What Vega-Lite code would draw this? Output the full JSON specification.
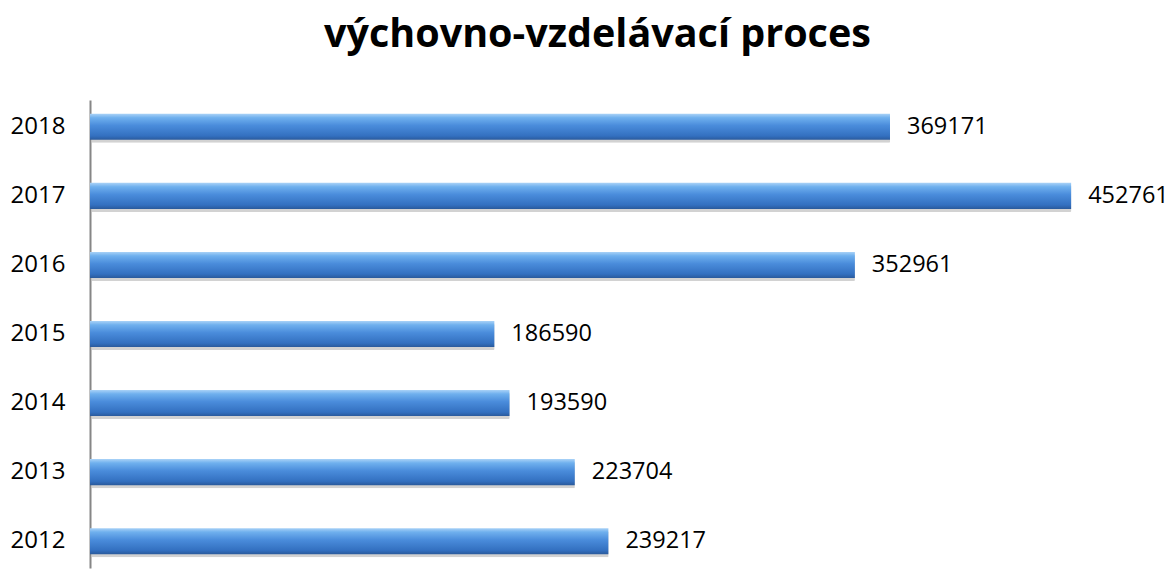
{
  "$schema": "https://vega.github.io/schema/vega-lite/v6.json",
  "width": 1078,
  "height": 468,
  "autosize": {"type": "none"},
  "padding": {"left": 90, "top": 100, "right": 0, "bottom": 2},
  "background": "white",
  "view": {"stroke": null},
  "title": {
    "text": "výchovno-vzdelávací proces",
    "font": "Open Sans",
    "fontSize": 39.5,
    "fontWeight": "bold",
    "color": "#000000",
    "anchor": "start",
    "frame": "group",
    "dx": 234,
    "offset": 45
  },
  "data": {
    "values": [
      {"rok": "2018", "hodnota": 369171},
      {"rok": "2017", "hodnota": 452761},
      {"rok": "2016", "hodnota": 352961},
      {"rok": "2015", "hodnota": 186590},
      {"rok": "2014", "hodnota": 193590},
      {"rok": "2013", "hodnota": 223704},
      {"rok": "2012", "hodnota": 239217}
    ]
  },
  "encoding": {
    "y": {
      "field": "rok",
      "type": "nominal",
      "sort": "descending",
      "scale": {"paddingInner": 0.623, "paddingOuter": 0.2},
      "axis": {
        "title": null,
        "ticks": false,
        "labelPadding": 25,
        "labelFont": "Open Sans",
        "labelFontSize": 24,
        "labelColor": "#000000",
        "domainColor": "#868686",
        "domainWidth": 2,
        "grid": false
      }
    },
    "x": {
      "field": "hodnota",
      "type": "quantitative",
      "scale": {"domain": [0, 497460], "nice": false, "zero": true},
      "axis": null
    }
  },
  "layer": [
    {
      "mark": {"type": "bar", "color": "#7f7f7f", "opacity": 0.35, "xOffset": 2, "yOffset": 3, "cornerRadius": 1}
    },
    {
      "mark": {
        "type": "bar",
        "color": {
          "gradient": "linear",
          "x1": 0, "y1": 0, "x2": 0, "y2": 1,
          "stops": [
            {"offset": 0, "color": "#a9d2f7"},
            {"offset": 0.15, "color": "#6fb0ee"},
            {"offset": 0.45, "color": "#4a8cdb"},
            {"offset": 0.85, "color": "#3370c0"},
            {"offset": 1, "color": "#2a5a9c"}
          ]
        }
      }
    },
    {
      "mark": {
        "type": "text",
        "align": "left",
        "baseline": "middle",
        "dx": 17,
        "font": "Open Sans",
        "fontSize": 23.5,
        "color": "#000000"
      },
      "encoding": {"text": {"field": "hodnota", "type": "quantitative", "format": "d"}}
    }
  ]
}
